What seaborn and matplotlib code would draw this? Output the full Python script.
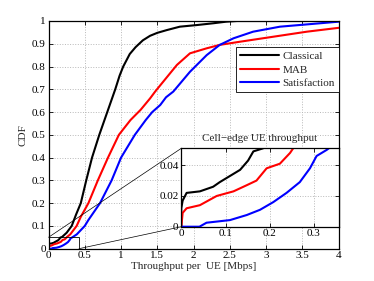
import matplotlib
matplotlib.use("Agg")
import matplotlib.pyplot as plt
from matplotlib.patches import Rectangle, ConnectionPatch
import seaborn as sns
import pandas as pd

# ─── data ───────────────────────────────────────────────────────────────────
classical_x = [0.0, 0.0, 0.003, 0.012, 0.042, 0.072, 0.087, 0.11, 0.133, 0.151, 0.163, 0.185,
               0.25, 0.32, 0.38, 0.445, 0.52, 0.6, 0.7, 0.81, 0.92, 0.98, 1.03,
               1.12, 1.2, 1.3, 1.4, 1.5, 1.63, 1.81, 2.04, 2.27, 2.45, 2.6, 3.55]
classical_y = [0.0, 0.012, 0.017, 0.022, 0.023, 0.026, 0.029, 0.033, 0.037, 0.043, 0.049, 0.051,
               0.07, 0.1, 0.15, 0.2, 0.3, 0.4, 0.5, 0.6, 0.7, 0.76, 0.8,
               0.855, 0.885, 0.915, 0.935, 0.948, 0.96, 0.975, 0.982, 0.99, 0.997, 1.0, 1.0]

mab_x = [0.0, 0.003, 0.012, 0.042, 0.08, 0.118, 0.148, 0.17, 0.193, 0.223, 0.246, 0.253,
         0.3, 0.388, 0.445, 0.55, 0.68, 0.82, 0.97, 1.13, 1.27, 1.4, 1.47, 1.58,
         1.77, 1.95, 2.18, 2.36, 2.64, 3.1, 3.56, 4.0]
mab_y = [0.0, 0.009, 0.012, 0.014, 0.02, 0.023, 0.027, 0.03, 0.038, 0.041, 0.048, 0.051,
         0.063, 0.1, 0.14, 0.2, 0.3, 0.4, 0.5, 0.565, 0.61, 0.66, 0.69, 0.733,
         0.807, 0.858, 0.88, 0.895, 0.909, 0.931, 0.953, 0.97]

satisf_x = [0.0, 0.041, 0.057, 0.11, 0.148, 0.178, 0.208, 0.238, 0.268, 0.291, 0.306, 0.329,
            0.39, 0.5, 0.55, 0.71, 0.87, 1.0, 1.19, 1.34, 1.43, 1.54, 1.62, 1.72, 1.95,
            2.18, 2.36, 2.55, 2.82, 3.19, 3.56, 4.0]
satisf_y = [0.0, 0.0, 0.0026, 0.0043, 0.0076, 0.011, 0.016, 0.022, 0.029, 0.038, 0.046, 0.05,
            0.063, 0.1, 0.126, 0.2, 0.3, 0.4, 0.5, 0.565, 0.6, 0.631, 0.665, 0.69, 0.777,
            0.85, 0.895, 0.924, 0.953, 0.975, 0.985, 0.997]

series = [("Classical", classical_x, classical_y, "black"),
          ("MAB", mab_x, mab_y, "red"),
          ("Satisfaction", satisf_x, satisf_y, "blue")]

main_xticks = [0, 0.5, 1, 1.5, 2, 2.5, 3, 3.5, 4]
main_xlabels = ["0", "0.5", "1", "1.5", "2", "2.5", "3", "3.5", "4"]
main_yticks = [0, 0.1, 0.2, 0.3, 0.4, 0.5, 0.6, 0.7, 0.8, 0.9, 1]
main_ylabels = ["0", "0.1", "0.2", "0.3", "0.4", "0.5", "0.6", "0.7", "0.8", "0.9", "1"]
ins_xticks = [0, 0.1, 0.2, 0.3]
ins_xlabels = ["0", "0.1", "0.2", "0.3"]
ins_yticks = [0, 0.02, 0.04]
ins_ylabels = ["0", "0.02", "0.04"]

# ─── style ───────────────────────────────────────────────────────────────────
sns.set_style("ticks", {"xtick.direction": "in", "ytick.direction": "in"})
plt.rcParams["font.family"] = ["Liberation Serif", "DejaVu Serif"]
plt.rcParams["font.size"] = 8
plt.rcParams["axes.linewidth"] = 0.9

GRID = dict(color="#b8b8b8", linestyle=":", linewidth=0.7)

fig = plt.figure(figsize=(3.74, 2.81), dpi=100)
ax = fig.add_axes([0.1297, 0.115, 0.9056 - 0.1297, 0.9253 - 0.115])

for name, xs, ys, col in series:
    df = pd.DataFrame({"x": xs, "y": ys})
    sns.lineplot(data=df, x="x", y="y", ax=ax, color=col, linewidth=1.5,
                 sort=False, estimator=None, label=name)

ax.set_xlim(0, 4)
ax.set_ylim(0, 1)
ax.set_xticks(main_xticks, main_xlabels)
ax.set_yticks(main_yticks, main_ylabels)
ax.tick_params(labelsize=8, length=3, width=0.6, top=True, right=True, pad=2, colors="black")
ax.grid(True, **GRID)
ax.set_xlabel("Throughput per  UE [Mbps]", fontsize=8, labelpad=1)
ax.set_ylabel("CDF", fontsize=8, labelpad=3)
for s in ax.spines.values():
    s.set_color("black")

leg = ax.legend(loc="upper right", bbox_to_anchor=(1.0, 0.885), fontsize=8,
                frameon=True, fancybox=False, edgecolor="black", framealpha=1,
                handlelength=3.5, handletextpad=0.3, borderpad=0.35, labelspacing=0.35,
                borderaxespad=0.0)
leg.get_frame().set_linewidth(0.6)

# zoom rectangle on the main axes
ax.add_patch(Rectangle((0, 0), 0.42, 0.05, fill=False, edgecolor="black", linewidth=0.6, zorder=5))

# ─── inset ───────────────────────────────────────────────────────────────────
ins = fig.add_axes([0.4848, 0.1932, 0.9056 - 0.4848, 0.4722 - 0.1932])
ins.set_facecolor("white")
for name, xs, ys, col in series:
    df = pd.DataFrame({"x": xs, "y": ys})
    sns.lineplot(data=df, x="x", y="y", ax=ins, color=col, linewidth=1.5,
                 sort=False, estimator=None, legend=False)
ins.set_xlim(0, 0.356)
ins.set_ylim(0, 0.051)
ins.set_xticks(ins_xticks, ins_xlabels)
ins.set_yticks(ins_yticks, ins_ylabels)
ins.tick_params(labelsize=8, length=3, width=0.6, top=True, right=True, pad=2, colors="black")
ins.grid(True, **GRID)
ins.set_xlabel("")
ins.set_ylabel("")
ins.set_title("Cell\u2212edge UE throughput", fontsize=8, pad=5)
for s in ins.spines.values():
    s.set_color("black")

# connector lines
for xa, ya, yb in [(0, 0.05, 1), (0.42, 0, 0)]:
    con = ConnectionPatch(xyA=(xa, ya), coordsA="data", axesA=ax,
                          xyB=(0, yb), coordsB="axes fraction", axesB=ins,
                          color="black", linewidth=0.5)
    fig.add_artist(con)

fig.savefig("out.png", dpi=100)
